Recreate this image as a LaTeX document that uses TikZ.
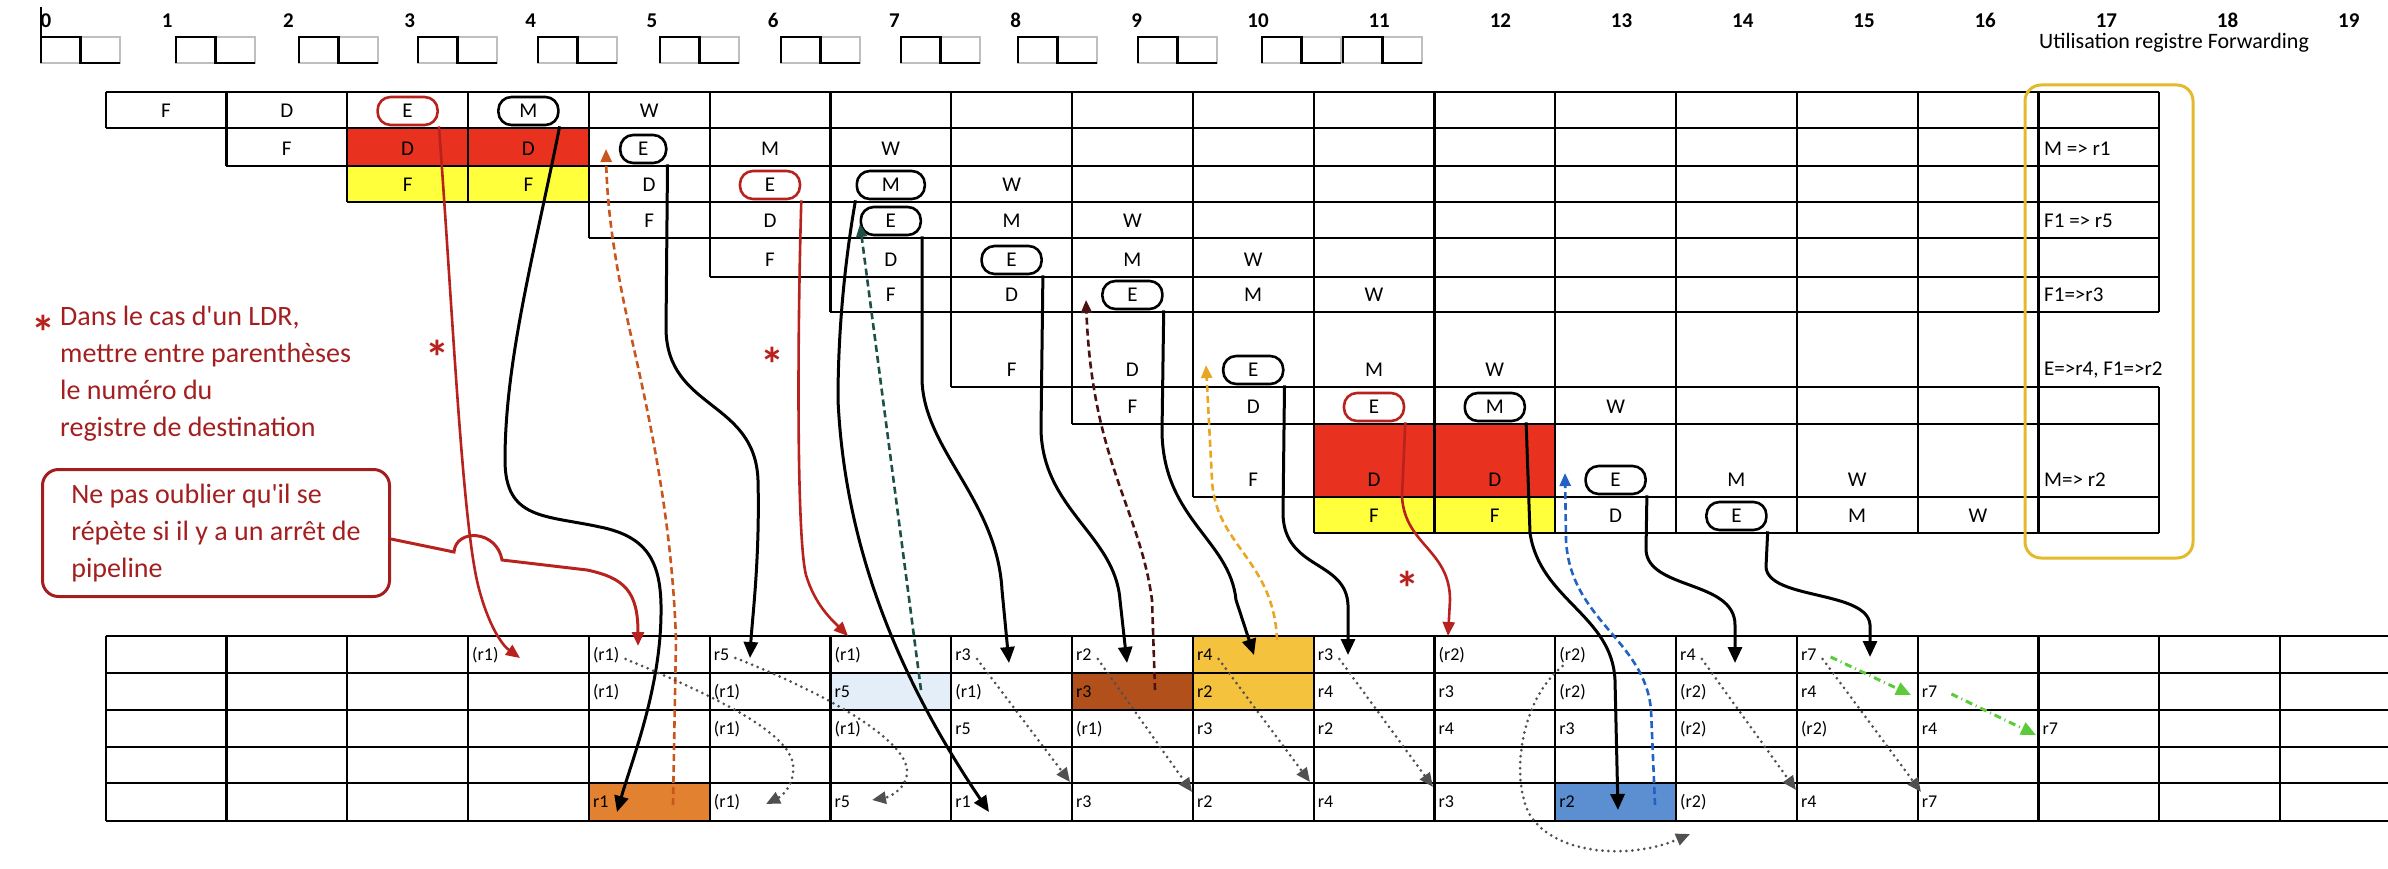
\documentclass[tikz,border=0pt]{standalone}
\usepackage{fontspec}
\setmainfont{Carlito}
\usetikzlibrary{arrows.meta, calc, positioning}

\definecolor{rougecase}{HTML}{E8321F}
\definecolor{jaunecase}{HTML}{FFFF3C}
\definecolor{rougenote}{HTML}{A31F1F}
\definecolor{rougefleche}{HTML}{B8221E}
\definecolor{orangecase}{HTML}{E2812F}
\definecolor{brunecase}{HTML}{B2501C}
\definecolor{orcase}{HTML}{F5C23E}
\definecolor{bleucase}{HTML}{5B8FD2}
\definecolor{bleuclair}{HTML}{E3EEF8}
\definecolor{cadreor}{HTML}{E2BA2C}
\definecolor{sarcelle}{HTML}{1E5048}
\definecolor{brunfonce}{HTML}{4B1212}
\definecolor{orfleche}{HTML}{E8A623}
\definecolor{bleufleche}{HTML}{2262C4}
\definecolor{orangefleche}{HTML}{C9561D}
\definecolor{vertfleche}{HTML}{5CCB3A}
\definecolor{gris}{HTML}{505050}

% bord gauche de la colonne #1 (une colonne = un cycle)
\newcommand{\colx}[1]{105.6+120.8*(#1)}

\begin{document}
\begin{tikzpicture}[x=1pt, y=-1pt,
    trait/.style={line width=2.2pt},
    lettre/.style={font=\fontsize{21}{25}\selectfont, inner sep=0pt},
    bulle/.style={lettre, draw, line width=2.6pt, rounded corners=13pt,
        minimum width=60pt, minimum height=28pt},
    reg/.style={font=\fontsize{18}{22}\selectfont, inner sep=0pt, anchor=west},
    chiffre/.style={font=\bfseries\fontsize{21}{25}\selectfont, inner sep=0pt, anchor=base},
    note/.style={text=rougenote, font=\fontsize{28}{37}\selectfont, inner sep=0pt, align=left},
    astre/.style={text=rougefleche, font=\bfseries\fontsize{48}{48}\selectfont, inner sep=0pt},
    noire/.style={line width=3pt, -{Triangle[length=16pt, width=14pt]}},
    rougef/.style={rougefleche, line width=2.6pt, -{Triangle[length=14pt, width=12pt]}},
    tirets/.style={line width=2.6pt, dash pattern=on 7pt off 4pt, -{Triangle[length=13pt, width=11pt]}},
    pointilles/.style={gris, line width=3pt, line cap=round, dash pattern=on 0pt off 6pt, -{Triangle[length=14pt, width=12pt]}},
    mixte/.style={vertfleche, line width=3pt, dash pattern=on 7pt off 4pt on 1pt off 4pt, -{Triangle[length=15pt, width=13pt]}}
]
\useasboundingbox (0,0) rectangle (2388,869);

% 1. Horloge : numeros des cycles et signaux
\foreach \k in {0,...,19}
  \node[chiffre] (cy\k) at ({46+121.2*\k},28) {\k};
\draw[line width=2.6pt] (41,7) -- (41,37);
\foreach \s in {41,176,299,418,538,660,781,901,1018,1138,1262,1343}{
  \draw[black!25, line width=1.6pt] (\s,37) rectangle ++(79,26);
  \draw[line width=2.6pt] (\s,63) -- (\s,37) -- ++(39.5,0) -- ++(0,26) -- ++(39.5,0);
}
\node[lettre, font=\fontsize{22}{26}\selectfont, anchor=base west] (titre) at (2039,49) {Utilisation registre Forwarding};

% 2. Tableau du pipeline (lignes en escalier)
\fill[rougecase] ({\colx{2}},128) rectangle ({\colx{4}},166);
\fill[jaunecase] ({\colx{2}},166) rectangle ({\colx{4}},202);
\fill[rougecase] ({\colx{10}},424) rectangle ({\colx{12}},497);
\fill[jaunecase] ({\colx{10}},497) rectangle ({\colx{12}},533);
\foreach \deb/\haut/\bas/\fin in {0/92/128/17, 1/128/166/17, 2/166/202/17, 4/202/238/17,
    5/238/277/17, 6/277/312/17, 7/312/387/16, 8/387/424/17, 9/424/497/17, 10/497/533/17}{
  \draw[trait] ({\colx{\deb}},\haut) -- ({\colx{17}},\haut)
               ({\colx{\deb}},\bas) -- ({\colx{17}},\bas);
  \foreach \c in {\deb,...,\fin}
    \draw[trait] ({\colx{\c}},\haut) -- ({\colx{\c}},\bas);
}
\foreach \bas/\liste in {128/{0/F,1/D,4/W}, 166/{1/F,2/D,3/D,5/M,6/W}, 202/{2/F,3/F,4/D,7/W},
    238/{4/F,5/D,7/M,8/W}, 277/{5/F,6/D,8/M,9/W}, 312/{6/F,7/D,9/M,10/W}, 387/{7/F,8/D,10/M,11/W},
    424/{8/F,9/D,12/W}, 497/{9/F,10/D,11/D,13/M,14/W}, 533/{10/F,11/F,12/D,14/M,15/W}}
  \foreach \c/\l in \liste
    \node[lettre] at ({\colx{\c+0.5}},\bas-17) {\l};

% etages entoures
\node[bulle, draw=rougefleche] (ex1) at ({\colx{2.5}},111) {E};
\node[bulle] (mem1) at ({\colx{3.5}},111) {M};
\node[bulle, minimum width=46pt] (ex2) at ({\colx{4.5}-6},149) {E};
\node[bulle, draw=rougefleche] (ex3) at ({\colx{5.5}},185) {E};
\node[bulle, minimum width=68pt] (mem3) at ({\colx{6.5}},185) {M};
\node[bulle] (ex4) at ({\colx{6.5}},221) {E};
\node[bulle] (ex5) at ({\colx{7.5}},260) {E};
\node[bulle] (ex6) at ({\colx{8.5}},295) {E};
\node[bulle] (ex7) at ({\colx{9.5}},370) {E};
\node[bulle, draw=rougefleche] (ex8) at ({\colx{10.5}},407) {E};
\node[bulle] (mem8) at ({\colx{11.5}},407) {M};
\node[bulle] (ex9) at ({\colx{12.5}},480) {E};
\node[bulle] (ex10) at ({\colx{13.5}},516) {E};

% colonne "Utilisation registre Forwarding"
\foreach \bas/\txt in {166/{M => r1}, 238/{F1 => r5}, 312/{F1=>r3}, 387/{E=>r4, F1=>r2}, 497/{M=> r2}}
  \node[lettre, anchor=west] at (2044,\bas-17) {\txt};
\draw[cadreor, line width=3pt, rounded corners=16pt] (2025,85) rectangle (2193,558);

% 3. Tableau des registres
\fill[orangecase] ({\colx{4}},783) rectangle ({\colx{5}},821);
\fill[bleuclair] ({\colx{6}},673) rectangle ({\colx{7}},710);
\fill[brunecase] ({\colx{8}},673) rectangle ({\colx{9}},710);
\fill[orcase] ({\colx{9}},636) rectangle ({\colx{10}},710);
\fill[bleucase] ({\colx{12}},783) rectangle ({\colx{13}},821);
\foreach \y in {636,673,710,747,783,821}
  \draw[trait] ({\colx{0}},\y) -- (2388,\y);
\foreach \c in {0,...,18}
  \draw[trait] ({\colx{\c}},636) -- ({\colx{\c}},821);
\foreach \ligne/\y/\liste in {
    A/655/{3/{(r1)},4/{(r1)},5/r5,6/{(r1)},7/r3,8/r2,9/r4,10/r3,11/{(r2)},12/{(r2)},13/r4,14/r7},
    B/692/{4/{(r1)},5/{(r1)},6/r5,7/{(r1)},8/r3,9/r2,10/r4,11/r3,12/{(r2)},13/{(r2)},14/r4,15/r7},
    C/729/{5/{(r1)},6/{(r1)},7/r5,8/{(r1)},9/r3,10/r2,11/r4,12/r3,13/{(r2)},14/{(r2)},15/r4,16/r7},
    E/802/{4/r1,5/{(r1)},6/r5,7/r1,8/r3,9/r2,10/r4,11/r3,12/r2,13/{(r2)},14/r4,15/r7}}
  \foreach \c/\t in \liste
    \node[reg] (r\ligne\c) at ({\colx{\c}+4},\y) {\t};

% 4. Remarques
\node[astre] (et0) at (43,332) {*};
\node[note, anchor=north west] (ldr) at (60,306) {Dans le cas d\textquotesingle un LDR,\\mettre entre parenthèses\\le numéro du\\registre de destination};
\node[note, draw=rougenote, line width=3pt, rounded corners=16pt, anchor=north west,
    minimum width=347pt, minimum height=127pt, inner xsep=16pt] (rappel) at (41,468)
    {Ne pas oublier qu\textquotesingle il se\\répète si il y a un arrêt de\\pipeline};
\node[astre] (et1) at (437,357) {*};
\node[astre] (et2) at (772,364) {*};
\node[astre] (et3) at (1407,588) {*};

% 5. Fleches de forwarding
% pointes et departs libres
\coordinate (t0) at (638,646);
\coordinate (t1) at (520,658);
\coordinate (t2) at (617,812);
\coordinate (d3) at (673,805);  \coordinate (t3) at (606,149);
\coordinate (t4) at (750,658);
\coordinate (t5) at (848,636);
\coordinate (t6) at (989,812);
\coordinate (d7) at (921,690);  \coordinate (t7) at (860,224);
\coordinate (t8) at (1009,663);
\coordinate (t9) at (1127,663);
\coordinate (d10) at (1155,690); \coordinate (t10) at (1086,300);
\coordinate (t11) at (1254,655);
\coordinate (d12) at (1277,640); \coordinate (t12) at (1206,365);
\coordinate (t13) at (1348,655);
\coordinate (t14) at (1448,636);
\coordinate (t15) at (1618,810);
\coordinate (d16) at (1655,805); \coordinate (t16) at (1565,473);
\coordinate (t17) at (1735,663);
\coordinate (t18) at (1870,657);

\draw[rougef, line width=3pt] ($(rappel.east)+(0,6)$) -- (454,552)
    .. controls (456,528) and (497,530) .. (502,560) -- (587,570)
    .. controls (625,578) and (638,592) .. (t0);
\draw[rougef] (ex1.south east) .. controls (452,300) and (462,520) .. (478,585)
    .. controls (488,625) and (502,645) .. (t1);
\draw[noire] (mem1.south east) .. controls (535,250) and (505,360) .. (505,460)
    .. controls (505,520) and (545,515) .. (600,527)
    .. controls (650,537) and (662,565) .. (661,615)
    .. controls (660,690) and (632,760) .. (t2);
\draw[tirets, orangefleche] (d3) -- (676,640) .. controls (672,520) and (650,420) .. (632,340)
    .. controls (615,265) and (607,210) .. (t3);
\draw[noire] (ex2.south east) -- (666,330) .. controls (668,410) and (755,400) .. (758,480)
    .. controls (760,560) and (752,620) .. (t4);
\draw[rougef] (ex3.south east) .. controls (797,350) and (797,540) .. (806,575)
    .. controls (815,605) and (832,620) .. (t5);
\draw[noire] (mem3.south west) .. controls (845,260) and (838,330) .. (838,400)
    .. controls (845,550) and (900,680) .. (t6);
\draw[tirets, sarcelle] (d7) -- (t7);
\draw[noire] (ex4.south east) -- (922,380) .. controls (924,450) and (997,500) .. (1002,590) -- (t8);
\draw[noire] (ex5.south east) -- (1041,430) .. controls (1043,510) and (1115,535) .. (1120,600) -- (t9);
\draw[tirets, brunfonce] (d10) -- (1152,600) .. controls (1140,510) and (1092,460) .. (t10);
\draw[noire] (ex6.south east) -- (1162,433) .. controls (1164,520) and (1230,540) .. (1236,600) -- (t11);
\draw[tirets, orfleche] (d12) .. controls (1274,560) and (1215,545) .. (1212,480) -- (t12);
\draw[noire] (ex7.south east) -- (1283,515) .. controls (1285,570) and (1346,560) .. (1348,605) -- (t13);
\draw[rougef] (ex8.south east) -- (1402,497) .. controls (1405,545) and (1450,550) .. (1450,600) -- (t14);
\draw[noire] (mem8.south east) -- (1530,533) .. controls (1540,600) and (1612,615) .. (1615,680) -- (t15);
\draw[tirets, bleufleche] (d16) -- (1651,710) .. controls (1645,640) and (1570,620) .. (1566,540) -- (t16);
\draw[noire] (ex9.south east) -- (1646,550) .. controls (1648,590) and (1735,580) .. (1735,625) -- (t17);
\draw[noire] (ex10.south east) -- (1766,567) .. controls (1768,600) and (1868,590) .. (1870,625) -- (t18);

% 6. Decalage des registres (pointilles)
\coordinate (p1) at (766,804);
\coordinate (p2) at (872,800);
\coordinate (p3) at (1070,782);
\coordinate (p4) at (1192,792);
\coordinate (p5) at (1310,782);
\coordinate (p6) at (1433,787);
\coordinate (p7) at (1796,790);
\coordinate (p8) at (1921,792);
\coordinate (p9) at (1690,834);
\coordinate (v1) at (1911,695);
\coordinate (v2) at (2036,735);
\draw[pointilles] ($(rA4.east)+(6,4)$) .. controls (700,690) and (790,730) .. (793,765)
    .. controls (795,785) and (782,796) .. (p1);
\draw[pointilles] ($(rA5.east)+(6,3)$) .. controls (830,695) and (905,740) .. (907,770)
    .. controls (908,788) and (890,797) .. (p2);
\draw[pointilles] ($(rA7.east)+(6,4)$) -- (p3);
\draw[pointilles] ($(rA8.east)+(6,4)$) -- (p4);
\draw[pointilles] ($(rA9.east)+(6,4)$) -- (p5);
\draw[pointilles] ($(rA10.east)+(6,4)$) -- (p6);
\draw[pointilles] ($(rA13.east)+(6,4)$) -- (p7);
\draw[pointilles] ($(rA14.east)+(6,4)$) -- (p8);
\draw[pointilles] ($(rA12.south)+(-10,3)$) .. controls (1520,700) and (1510,780) .. (1530,815)
    .. controls (1555,855) and (1630,860) .. (p9);
\draw[mixte] ($(rA14.east)+(14,2)$) -- (v1);
\draw[mixte] ($(rB15.east)+(14,2)$) -- (v2);

\end{tikzpicture}
\end{document}
